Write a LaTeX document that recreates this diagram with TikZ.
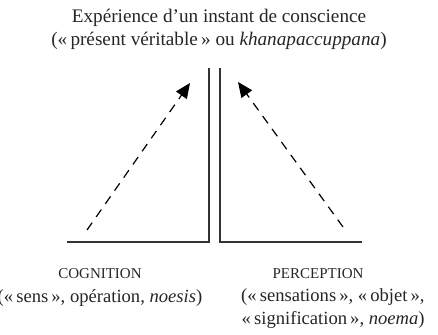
\documentclass[tikz,border=0pt]{standalone}
\usepackage{fontspec}
\setmainfont{Liberation Serif}
\usetikzlibrary{arrows.meta, positioning}

\begin{document}
\begin{tikzpicture}[
    x=0.5pt, y=-0.5pt,
    label/.style={align=center, font=\fontsize{9.3}{11.5}\selectfont, inner sep=0pt, text=black!85},
    caps/.style={font=\fontsize{7.5}{9}\selectfont, inner sep=0pt, text=black!85},
    axis/.style={line width=0.7pt, draw=black!80},
    arr/.style={-{Triangle[length=7.5pt, width=6.5pt]}, dash pattern=on 4.5pt off 3.5pt, line width=0.6pt},
]
\useasboundingbox (0,0) rectangle (438,335);

% Title
\node[label, font=\fontsize{9.6}{11.5}\selectfont] (title) at (219, 29) {Expérience d’un instant de conscience\\(«\,présent véritable\,» ou \textit{khanapaccuppana})};

% Frames
\coordinate (lb) at (67,242);
\coordinate (lc) at (209,242);
\coordinate (lt) at (209,68);
\coordinate (rt) at (220,68);
\coordinate (rc) at (220,242);
\coordinate (rb) at (362,242);
\draw[axis] (lb) -- (lc) -- (lt);
\draw[axis] (rt) -- (rc) -- (rb);

% Arrows
\coordinate (cogstart) at (87,230);
\coordinate (cogtip) at (190,83);
\coordinate (perstart) at (343,227);
\coordinate (pertip) at (238,82);
\draw[arr] (cogstart) -- (cogtip);
\draw[arr] (perstart) -- (pertip);

% Captions
\node[caps] (cog) at (100,274) {COGNITION};
\node[label] (cogdesc) at (100,298) {(«\,sens\,», opération, \textit{noesis})};
\node[caps] (per) at (318,274) {PERCEPTION};
\node[label, align=right, anchor=east] (perdesc) at (425,309) {(«\,sensations\,», «\,objet\,»,\\«\,signification\,», \textit{noema})};
\end{tikzpicture}
\end{document}
